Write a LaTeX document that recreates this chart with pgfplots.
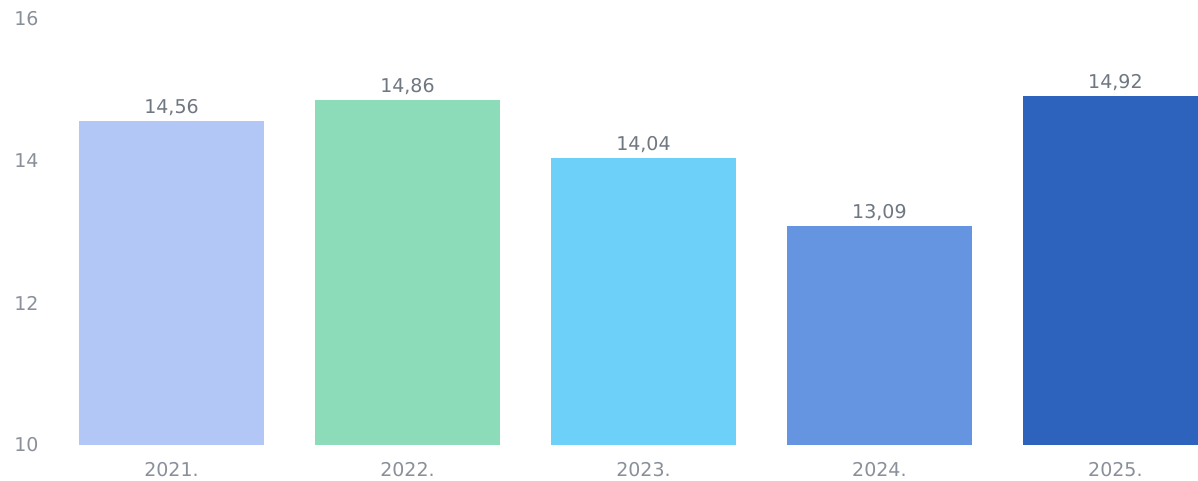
\documentclass[border=0pt]{standalone}
\usepackage{pgfplots}
\pgfplotsset{compat=1.18}
\usepackage{fontspec}
\setmainfont{DejaVu Sans}

\definecolor{cA}{HTML}{B3C7F7}
\definecolor{cB}{HTML}{8DDCB9}
\definecolor{cC}{HTML}{6DD0F9}
\definecolor{cD}{HTML}{6594E0}
\definecolor{cE}{HTML}{2E63BD}
\definecolor{ticktxt}{HTML}{8A9099}
\definecolor{valtxt}{HTML}{6F7781}

\begin{document}
\begin{tikzpicture}
\begin{axis}[
    scale only axis,
    width=572.25pt, height=213pt,
    xmin=-0.5, xmax=4.35,
    ymin=10, ymax=16,
    ytick={10,12,14,16},
    xtick={0,1,2,3,4},
    xticklabels={2021.,2022.,2023.,2024.,2025.},
    ybar, bar width=0.784, bar shift=0pt,
    axis line style={draw=none},
    major tick length=0pt,
    tick label style={font=\fontsize{9.5}{11}\selectfont, text=ticktxt},
    xticklabel style={yshift=-5pt},
    yticklabel style={xshift=-4pt},
    /pgf/number format/assume math mode=true,
    nodes near coords,
    every node near coord/.append style={font=\fontsize{9.5}{11}\selectfont, text=valtxt, yshift=-1pt},
    nodes near coords={\pgfmathprintnumber[use comma,fixed,fixed zerofill,precision=2,assume math mode=true]{\pgfplotspointmeta}},
  ]
  % one plot per year so each bar gets its own colour
  \addplot[fill=cA, draw=none] coordinates {(0,14.56)};
  \addplot[fill=cB, draw=none] coordinates {(1,14.86)};
  \addplot[fill=cC, draw=none] coordinates {(2,14.04)};
  \addplot[fill=cD, draw=none] coordinates {(3,13.09)};
  \addplot[fill=cE, draw=none] coordinates {(4,14.92)};
\end{axis}
\pgfresetboundingbox
\path[use as bounding box] (-26.75pt,-18pt) rectangle (572.25pt,222.5pt);
\end{tikzpicture}
\end{document}
